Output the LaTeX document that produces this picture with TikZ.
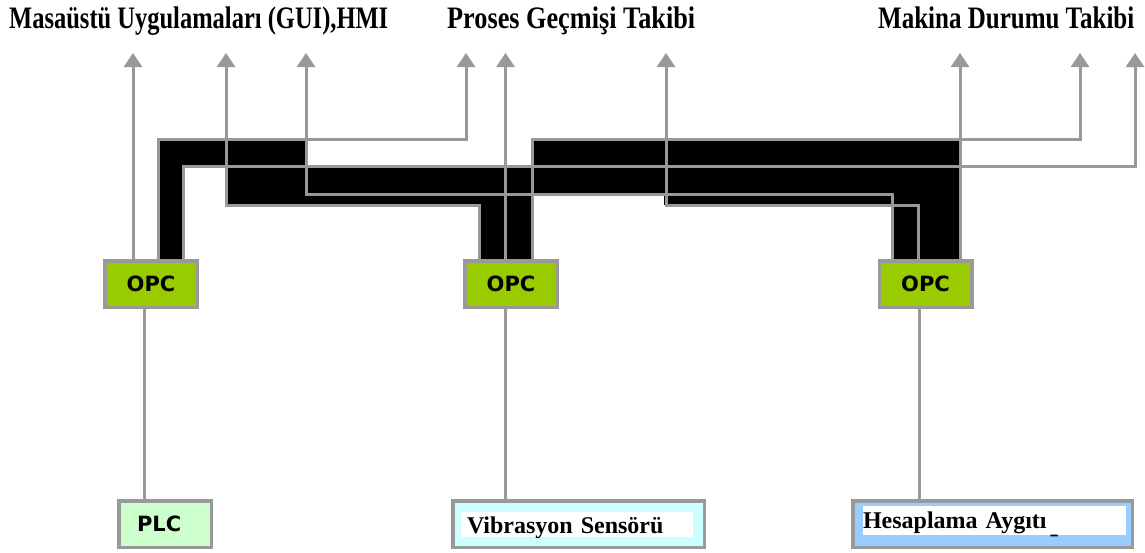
\documentclass[tikz,border=0pt]{standalone}
\usepackage{fontspec}
\setmainfont{Liberation Serif}
\newfontfamily\dvsans{DejaVu Sans}
\usetikzlibrary{arrows.meta}
\definecolor{lg}{HTML}{999999}
\definecolor{opcg}{HTML}{99CC00}
\definecolor{plcg}{HTML}{CCFFCC}
\definecolor{vibc}{HTML}{CCFFFF}
\definecolor{hesb}{HTML}{99CCFF}
\begin{document}
\begin{tikzpicture}[x=1pt,y=-1pt,
  conn/.style={draw=lg, line width=3pt, -{Triangle[width=18pt,length=14pt]}},
  plainline/.style={draw=lg, line width=3pt},
  opcbox/.style={draw=lg, line width=3.5pt, fill=opcg, minimum width=92.5pt, minimum height=46.5pt,
    inner sep=0pt, outer sep=0pt, font=\dvsans\bfseries\fontsize{21}{21}\selectfont},
  devbox/.style={draw=lg, line width=3.5pt, minimum height=46.5pt, inner ysep=0pt, outer sep=0pt, align=left},
  titletext/.style={anchor=base west, inner sep=0pt, font=\bfseries\fontsize{25}{25}\selectfont},
  pipe/.style={fill=black}
]
\useasboundingbox (0,0) rectangle (1145,552);

% titles
\node[titletext] (tgui) at (9,28) {\scalebox{0.98}[1.25]{Masaüstü Uygulamaları (GUI),HMI}};
\node[titletext] (tproc) at (447,28) {\scalebox{1.05}[1.25]{Proses Geçmişi Takibi}};
\node[titletext] (tmach) at (878,28) {\scalebox{1}[1.25]{Makina Durumu Takibi}};

% black pipes
\fill[pipe] (158,139) rectangle (183,260);
\fill[pipe] (158,139) rectangle (306,166);
\fill[pipe] (226,166) rectangle (479,205);
\fill[pipe] (479,166) rectangle (532,260);
\fill[pipe] (532,139) rectangle (960,194);
\fill[pipe] (664,194) rectangle (892,205);
\fill[pipe] (892,194) rectangle (960,260);

% OPC nodes
\node[opcbox] (opc1) at (151,284) {OPC};
\node[opcbox] (opc2) at (511,284) {OPC};
\node[opcbox] (opc3) at (925.5,284) {OPC};

% device nodes
\node[devbox, fill=plcg, minimum width=92.5pt, text width=56pt, inner xsep=18.25pt,
  font=\dvsans\bfseries\fontsize{21}{21}\selectfont] (plc) at (165,524) {PLC};
\node[devbox, fill=vibc, minimum width=251.5pt, text width=223pt, inner xsep=14.25pt,
  text height=20pt, text depth=2pt, font=\bfseries\fontsize{24}{24}\selectfont,
  path picture={\fill[white] ([xshift=8.25pt,yshift=-11.25pt]path picture bounding box.north west)
    rectangle ([xshift=-11.25pt,yshift=10.25pt]path picture bounding box.south east);}]
  (vib) at (578.5,524) {Vibrasyon Sensörü};
\node[devbox, fill=hesb, minimum width=279.5pt, text width=259pt, inner xsep=10.25pt,
  text height=14pt, text depth=6pt, font=\bfseries\fontsize{24}{24}\selectfont,
  path picture={\fill[white] ([xshift=10.25pt,yshift=-5.25pt]path picture bounding box.north west)
    rectangle ([xshift=-6.25pt,yshift=12.25pt]path picture bounding box.south east);}]
  (hes) at (992.5,524) {Hesaplama Aygıtı\hspace{4pt}\raisebox{-5pt}{\scalebox{0.6}[1]{\_}}};

% arrow tips
\coordinate (a1) at (133,53);
\coordinate (a2) at (226,53);
\coordinate (a3) at (306,53);
\coordinate (a4) at (466,53);
\coordinate (a5) at (505.5,53);
\coordinate (a6) at (666,53);
\coordinate (a7) at (960,53);
\coordinate (a8) at (1080,53);
\coordinate (a9) at (1135,53);

% connectors from OPC nodes to the applications
\draw[conn] (opc1.north -| a1) -- (a1);
\draw[conn] (opc1.north -| 158,0) |- (466,139) -- (a4);
\draw[conn] (opc1.north -| 183,0) |- (1135,166) -- (a9);
\draw[conn] (opc2.north -| 479,0) |- (226,205) -- (a2);
\draw[conn] (opc2.north -| a5) -- (a5);
\draw[conn] (opc2.north -| 532,0) |- (1080,139) -- (a8);
\draw[conn] (opc3.north -| 892,0) |- (306,194) -- (a3);
\draw[conn] (opc3.north -| 918,0) |- (666,205) -- (a6);
\draw[conn] (opc3.north -| a7) -- (a7);

% connectors from OPC nodes down to devices
\draw[plainline] ([xshift=-7pt]opc1.south) -- ([xshift=-7pt]opc1.south |- plc.north);
\draw[plainline] ([xshift=-6pt]opc2.south) -- ([xshift=-6pt]opc2.south |- vib.north);
\draw[plainline] ([xshift=-6.5pt]opc3.south) -- ([xshift=-6.5pt]opc3.south |- hes.north);
\end{tikzpicture}
\end{document}
